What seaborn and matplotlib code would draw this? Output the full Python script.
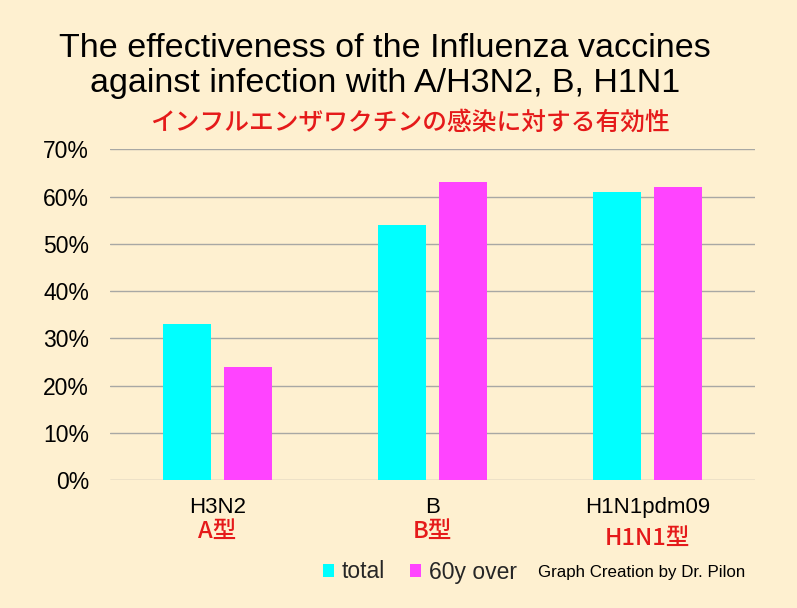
import matplotlib
matplotlib.use("Agg")
import matplotlib.pyplot as plt
import matplotlib.transforms as mtransforms
from matplotlib.ticker import PercentFormatter
import seaborn as sns
import pandas as pd

# data
categories = ["H3N2", "B", "H1N1pdm09"]
jp_labels = ["A型", "B型", "H1N1型"]
total = [33, 54, 61]
over60 = [24, 63, 62]
series_names = ["total", "60y over"]

bg = "#FEF0D0"
colors = ["#00FFFF", "#FF44FF"]
red = "#E51A1A"
jp_font = ['Noto Sans CJK JP', 'DejaVu Sans']

sns.set_theme(style="white")
plt.rcParams['font.family'] = ['Liberation Sans', 'Noto Sans CJK JP', 'DejaVu Sans']

df = pd.DataFrame({
    "category": categories * 2,
    "value": total + over60,
    "group": [series_names[0]] * 3 + [series_names[1]] * 3,
})

fig = plt.figure(figsize=(7.97, 6.08), dpi=100, facecolor=bg)
ax = fig.add_axes([110 / 797, 1 - 480 / 608, 645 / 797, (480 - 149.3) / 608])
ax.set_facecolor(bg)

sns.barplot(data=df, x="category", y="value", hue="group", palette=colors,
            width=0.567, gap=0.21, saturation=1, linewidth=0, ax=ax, zorder=3)

ax.set_ylim(0, 70)
ax.set_xlim(-0.5, 2.5)
ax.set_yticks(range(0, 71, 10))
ax.yaxis.set_major_formatter(PercentFormatter(xmax=100, decimals=0))
ax.yaxis.grid(True, color="#A8A8A4", linewidth=1, zorder=0)
ax.set_axisbelow(True)
for s in ax.spines.values():
    s.set_visible(False)
ax.tick_params(axis="y", length=0, pad=15, labelsize=16.5, labelcolor="black")
ax.tick_params(axis="x", length=0, pad=12, labelsize=16, labelcolor="black")
ax.set_xlabel("")
ax.set_ylabel("")

# red japanese labels under each category
trans = mtransforms.blended_transform_factory(ax.transData, fig.transFigure)
for i, lab in enumerate(jp_labels):
    y = 1 - 531 / 608 if i < 2 else 1 - 538 / 608
    ax.text(i, y, lab, transform=trans, ha="center", va="center",
            color=red, fontsize=17, fontweight="medium", family=jp_font)

sns.move_legend(ax, "center", bbox_to_anchor=(420 / 797, 1 - 572 / 608),
                bbox_transform=fig.transFigure, ncol=2, frameon=False, title=None,
                fontsize=16.5, handlelength=0.48, handleheight=0.48,
                handletextpad=0.35, columnspacing=1.1)

fig.text(385 / 797, 1 - 57 / 608, "The effectiveness of the Influenza vaccines",
         ha="center", va="baseline", fontsize=24.5, color="black")
fig.text(385 / 797, 1 - 92 / 608, "against infection with A/H3N2, B, H1N1",
         ha="center", va="baseline", fontsize=24.5, color="black")
fig.text(410 / 797, 1 - 123 / 608, "インフルエンザワクチンの感染に対する有効性",
         ha="center", va="center", fontsize=17.8, fontweight="medium", color=red,
         family=jp_font)
fig.text(642 / 797, 1 - 572 / 608, "Graph Creation by Dr. Pilon",
         ha="center", va="center", fontsize=12.2, color="black")

fig.savefig("out.png", dpi=100, facecolor=bg)
